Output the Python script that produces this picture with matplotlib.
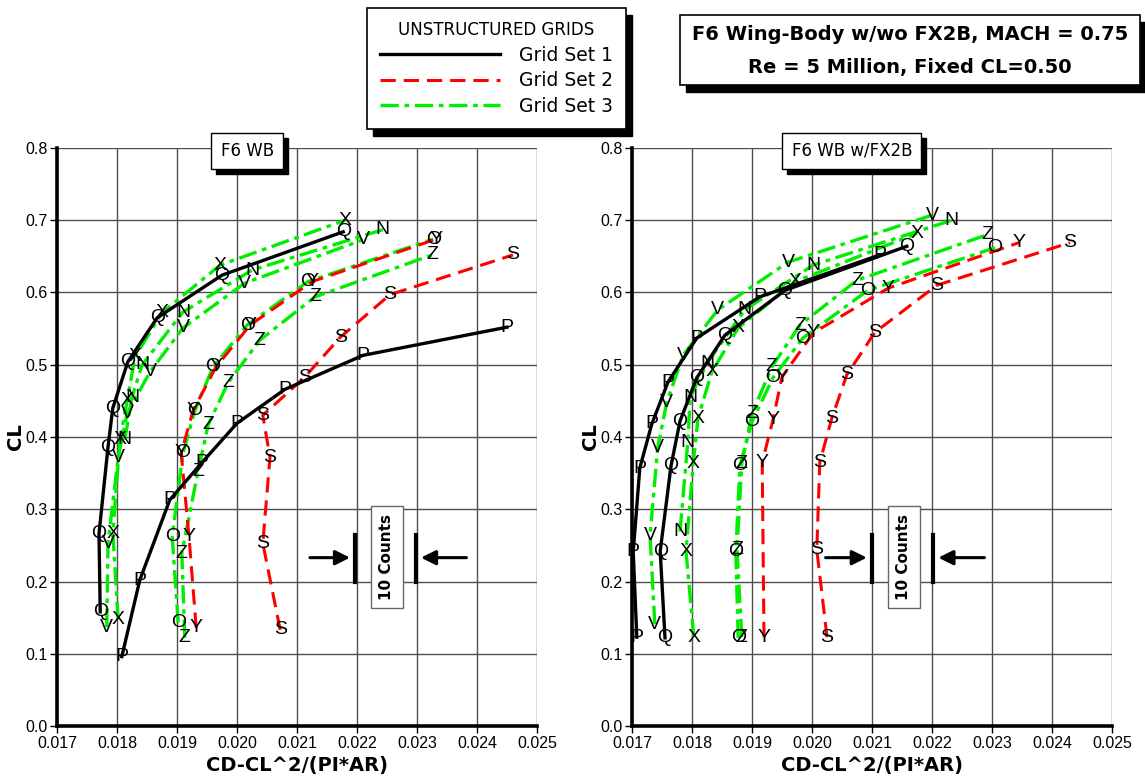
import matplotlib
matplotlib.use('Agg')
import matplotlib.pyplot as plt
from matplotlib.patches import Rectangle
from matplotlib.transforms import offset_copy, IdentityTransform
import numpy as np

# ---------------- F6 WB (left panel) ----------------
wb_Q_cd = [0.01772, 0.01770, 0.01785, 0.01793, 0.01818, 0.01867, 0.01975, 0.02177]
wb_Q_cl = [0.158, 0.266, 0.386, 0.440, 0.504, 0.565, 0.624, 0.684]
wb_P_cd = [0.01808, 0.01838, 0.01888, 0.01942, 0.02000, 0.02080, 0.02210, 0.02450]
wb_P_cl = [0.096, 0.202, 0.313, 0.365, 0.419, 0.466, 0.513, 0.552]
wb_S_cd = [0.02072, 0.02043, 0.02055, 0.02043, 0.02113, 0.02172, 0.02255, 0.02460]
wb_S_cl = [0.133, 0.253, 0.372, 0.430, 0.483, 0.538, 0.597, 0.652]
wb_Y_cd = [0.01932, 0.01920, 0.01907, 0.01927, 0.01965, 0.02022, 0.02125, 0.02332]
wb_Y_cl = [0.136, 0.262, 0.378, 0.437, 0.497, 0.555, 0.615, 0.674]
wb_X_cd = [0.01802, 0.01793, 0.01805, 0.01817, 0.01830, 0.01875, 0.01972, 0.02180]
wb_X_cl = [0.147, 0.267, 0.396, 0.451, 0.511, 0.572, 0.638, 0.700]
wb_V_cd = [0.01783, 0.01785, 0.01802, 0.01817, 0.01855, 0.01910, 0.02013, 0.02210]
wb_V_cl = [0.137, 0.253, 0.372, 0.433, 0.490, 0.551, 0.613, 0.673]
wb_N_cd = [0.01813, 0.01825, 0.01842, 0.01910, 0.02025, 0.02243]
wb_N_cl = [0.396, 0.455, 0.500, 0.573, 0.631, 0.687]
wb_O_cd = [0.01902, 0.01892, 0.01910, 0.01930, 0.01960, 0.02017, 0.02118, 0.02327]
wb_O_cl = [0.143, 0.262, 0.378, 0.437, 0.497, 0.555, 0.615, 0.674]
wb_Z_cd = [0.01913, 0.01908, 0.01935, 0.01952, 0.01985, 0.02038, 0.02130, 0.02325]
wb_Z_cl = [0.122, 0.239, 0.352, 0.417, 0.475, 0.534, 0.594, 0.652]

# ---------------- F6 WB w/FX2B (right panel) ----------------
fx_P_cd = [0.01708, 0.01702, 0.01713, 0.01733, 0.01760, 0.01808, 0.01913, 0.02113]
fx_P_cl = [0.123, 0.241, 0.357, 0.418, 0.476, 0.537, 0.594, 0.652]
fx_Q_cd = [0.01755, 0.01747, 0.01765, 0.01780, 0.01808, 0.01855, 0.01955, 0.02158]
fx_Q_cl = [0.122, 0.242, 0.360, 0.422, 0.482, 0.541, 0.603, 0.664]
fx_V_cd = [0.01738, 0.01730, 0.01743, 0.01758, 0.01785, 0.01843, 0.01960, 0.02200]
fx_V_cl = [0.141, 0.264, 0.386, 0.448, 0.513, 0.576, 0.642, 0.707]
fx_X_cd = [0.01803, 0.01790, 0.01802, 0.01810, 0.01833, 0.01877, 0.01972, 0.02175]
fx_X_cl = [0.123, 0.242, 0.364, 0.426, 0.490, 0.551, 0.615, 0.682]
fx_N_cd = [0.01780, 0.01793, 0.01797, 0.01825, 0.01888, 0.02002, 0.02233]
fx_N_cl = [0.269, 0.393, 0.455, 0.502, 0.576, 0.638, 0.700]
fx_Z_cd = [0.01883, 0.01875, 0.01883, 0.01900, 0.01933, 0.01980, 0.02075, 0.02292]
fx_Z_cl = [0.123, 0.244, 0.364, 0.432, 0.497, 0.555, 0.617, 0.680]
fx_O_cd = [0.01877, 0.01873, 0.01880, 0.01900, 0.01935, 0.01985, 0.02093, 0.02305]
fx_O_cl = [0.122, 0.241, 0.361, 0.421, 0.482, 0.537, 0.603, 0.662]
fx_Y_cd = [0.01920, 0.01917, 0.01935, 0.01950, 0.02002, 0.02127, 0.02345]
fx_Y_cl = [0.123, 0.365, 0.424, 0.483, 0.544, 0.606, 0.669]
fx_S_cd = [0.02025, 0.02008, 0.02013, 0.02033, 0.02058, 0.02105, 0.02208, 0.02430]
fx_S_cl = [0.123, 0.244, 0.365, 0.426, 0.486, 0.545, 0.610, 0.669]

grid_labels = ['Grid Set 1', 'Grid Set 2', 'Grid Set 3']
xticks = np.arange(0.017, 0.02501, 0.001)
yticks = np.arange(0.0, 0.801, 0.1)

wb_series = [('X', wb_X_cd, wb_X_cl, 3), ('V', wb_V_cd, wb_V_cl, 3), ('N', wb_N_cd, wb_N_cl, 3),
             ('O', wb_O_cd, wb_O_cl, 3), ('Z', wb_Z_cd, wb_Z_cl, 3),
             ('Y', wb_Y_cd, wb_Y_cl, 2), ('S', wb_S_cd, wb_S_cl, 2),
             ('Q', wb_Q_cd, wb_Q_cl, 1), ('P', wb_P_cd, wb_P_cl, 1)]
fx_series = [('V', fx_V_cd, fx_V_cl, 3), ('X', fx_X_cd, fx_X_cl, 3), ('N', fx_N_cd, fx_N_cl, 3),
             ('Z', fx_Z_cd, fx_Z_cl, 3), ('O', fx_O_cd, fx_O_cl, 3),
             ('Y', fx_Y_cd, fx_Y_cl, 2), ('S', fx_S_cd, fx_S_cl, 2),
             ('P', fx_P_cd, fx_P_cl, 1), ('Q', fx_Q_cd, fx_Q_cl, 1)]

styles = {1: dict(color='black', lw=2.4, ls='-'),
          2: dict(color='#ff0000', lw=2.2, dashes=(5, 2.6)),
          3: dict(color='#00ee00', lw=2.4, dashes=(5.5, 1.7, 1.4, 1.7))}

letter_font = ['Liberation Sans', 'DejaVu Sans']

fig = plt.figure(figsize=(11.45, 7.84), dpi=100)
W, H = 1145, 784
ax1 = fig.add_axes([57 / W, 58 / H, 480 / W, 578 / H])
ax2 = fig.add_axes([632 / W, 58 / H, 480 / W, 578 / H])

handles = {}


def draw_panel(ax, series):
    for letter, cd, cl, g in series:
        ln, = ax.plot(cd, cl, zorder=3 + (3 - g) * 0.1, **styles[g])
        handles.setdefault(g, ln)
    for letter, cd, cl, g in series:
        for x, y in zip(cd, cl):
            ax.text(x, y, letter, ha='center', va='center', fontsize=14,
                    family=letter_font, zorder=6)
    ax.set_xlim(0.017, 0.025)
    ax.set_ylim(0, 0.8)
    ax.set_xticks(xticks)
    ax.set_yticks(yticks)
    ax.set_xticklabels(['%.3f' % v for v in xticks])
    ax.set_yticklabels(['%.1f' % v for v in yticks])
    ax.grid(True, color='0.3', lw=1)
    ax.set_axisbelow(True)
    for s in ['top', 'right']:
        ax.spines[s].set_visible(False)
    for s in ['left', 'bottom']:
        ax.spines[s].set_linewidth(2.6)
    ax.tick_params(direction='out', length=5, width=1, labelsize=11.5, pad=2)
    for t in ax.get_xticklabels() + ax.get_yticklabels():
        t.set_family(letter_font)
    ax.set_xlabel('CD-CL^2/(PI*AR)', fontsize=14, fontweight='bold', labelpad=4)
    ax.set_ylabel('CL', fontsize=14, fontweight='bold')
    ax.yaxis.set_label_coords(-0.066, 0.5)


def boxed_text(ax, x, y, s, trans, pad, **kw):
    ax.text(x, y, s, transform=offset_copy(trans, fig=fig, x=5, y=-5, units='dots'),
            color='black', bbox=dict(boxstyle='square,pad=%g' % pad, fc='black', ec='black'),
            zorder=9, clip_on=False, **kw)
    ax.text(x, y, s, transform=trans,
            bbox=dict(boxstyle='square,pad=%g' % pad, fc='white', ec='black', lw=1),
            zorder=10, clip_on=False, **kw)


def counts(ax, xl, xr, xa_l, xa_r):
    for xb in (xl, xr):
        ax.plot([xb, xb], [0.199, 0.264], color='black', lw=3, zorder=7)
    ax.annotate('', xy=(xl - 0.00004, 0.233), xytext=(xa_l, 0.233),
                arrowprops=dict(arrowstyle='-|>', color='black', lw=2.2, mutation_scale=22), zorder=7)
    ax.annotate('', xy=(xr + 0.00004, 0.233), xytext=(xa_r, 0.233),
                arrowprops=dict(arrowstyle='-|>', color='black', lw=2.2, mutation_scale=22), zorder=7)
    ax.text((xl + xr) / 2 + 0.00002, 0.234, '10 Counts', rotation=90, ha='center', va='center',
            fontsize=11, fontweight='bold', zorder=8,
            bbox=dict(boxstyle='square,pad=0.55', fc='white', ec='0.4', lw=1))


draw_panel(ax1, wb_series)
draw_panel(ax2, fx_series)

counts(ax1, 0.02197, 0.02298, 0.02117, 0.02387)
counts(ax2, 0.02100, 0.02202, 0.02018, 0.02292)

boxed_text(ax1, 0.396, 0.995, 'F6 WB', ax1.transAxes, 0.55, ha='center', va='center', fontsize=12)
boxed_text(ax2, 0.458, 0.995, 'F6 WB w/FX2B', ax2.transAxes, 0.55, ha='center', va='center', fontsize=12)

# title box
fig.add_artist(Rectangle((686 / W, 1 - 92 / H), 460 / W, 70 / H, transform=fig.transFigure,
                         fc='black', ec='black', zorder=4))
fig.add_artist(Rectangle((680 / W, 1 - 85 / H), 460 / W, 70 / H, transform=fig.transFigure,
                         fc='white', ec='black', lw=1.2, zorder=4.5))
fig.text(910 / W, 1 - 35 / H, 'F6 Wing-Body w/wo FX2B, MACH = 0.75', ha='center', va='center',
         fontsize=14, fontweight='bold', zorder=5)
fig.text(910 / W, 1 - 68 / H, 'Re = 5 Million, Fixed CL=0.50', ha='center', va='center',
         fontsize=14, fontweight='bold', zorder=5)

# legend
leg = fig.legend([handles[1], handles[2], handles[3]], grid_labels, title='UNSTRUCTURED GRIDS',
                 loc='upper left', bbox_to_anchor=(367 / W, 1 - 8 / H), borderaxespad=0,
                 frameon=True, fancybox=False, edgecolor='black', framealpha=1, fontsize=13.5,
                 title_fontsize=12, handlelength=6.4, handletextpad=1.0,
                 borderpad=0.7, labelspacing=0.35)
leg.get_frame().set_linewidth(1.2)
leg.set_zorder(5)

fig.canvas.draw()
bb = leg.get_window_extent()
fig.add_artist(Rectangle((bb.x0 + 6, bb.y0 - 7), bb.width, bb.height, transform=IdentityTransform(),
                         fc='black', ec='black', zorder=4.9))

fig.savefig('out.png', dpi=100)
